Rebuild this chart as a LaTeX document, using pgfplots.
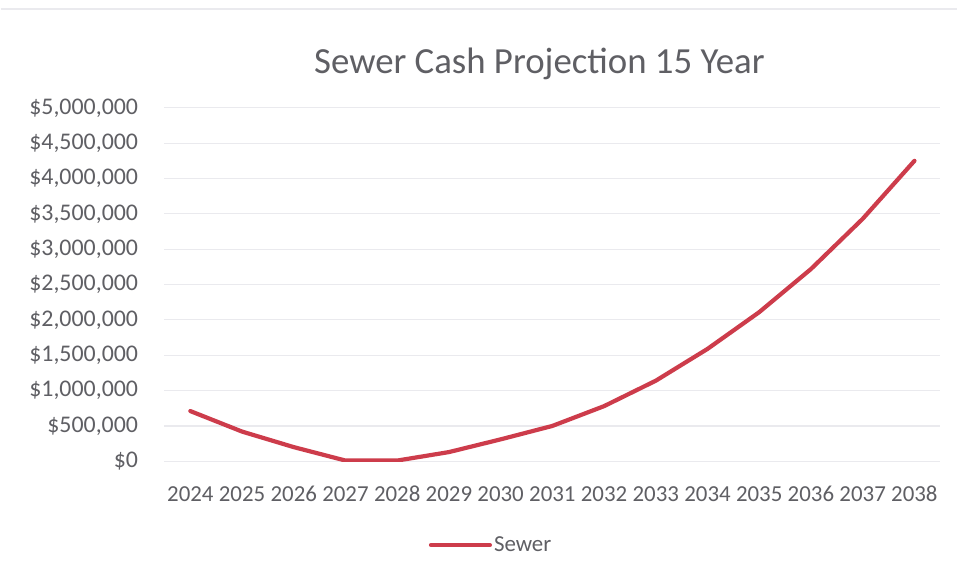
\documentclass[border=0pt]{standalone}
\usepackage{pgfplots}
\pgfplotsset{compat=1.18}
\usepackage{fontspec}
\setmainfont{Carlito}
\definecolor{txt}{RGB}{95,95,100}
\definecolor{sewer}{RGB}{205,60,75}
\definecolor{gridc}{RGB}{234,234,238}
\pgfplotstableread{
year value
2024 710000
2025 420000
2026 200000
2027 10000
2028 10000
2029 130000
2030 310000
2031 500000
2032 780000
2033 1140000
2034 1590000
2035 2110000
2036 2720000
2037 3430000
2038 4250000
}\sewerdata
\begin{document}
\begin{tikzpicture}[x=1bp,y=1bp]
\fill[white] (0,0) rectangle (958,577);
\draw[gridc, line width=1.5bp] (0,568) -- (958,568);
\begin{axis}[
  at={(164bp,115bp)}, anchor=south west,
  scale only axis, width=777bp, height=354bp,
  xmin=2023.5, xmax=2038.5, ymin=0, ymax=5000000,
  scaled y ticks=false,
  axis line style={draw=none},
  major tick length=0pt,
  ymajorgrids, major grid style={gridc, line width=1.2bp},
  xtick={2024,...,2038},
  xticklabels={2024,2025,2026,2027,2028,2029,2030,2031,2032,2033,2034,2035,2036,2037,2038},
  ytick={0,500000,1000000,1500000,2000000,2500000,3000000,3500000,4000000,4500000,5000000},
  yticklabels={{\$0},{\$500,000},{\$1,000,000},{\$1,500,000},{\$2,000,000},{\$2,500,000},{\$3,000,000},{\$3,500,000},{\$4,000,000},{\$4,500,000},{\$5,000,000}},
  ticklabel style={font=\fontsize{23}{27}\selectfont, text=txt},
  yticklabel style={font=\fontsize{24}{28}\selectfont, xshift=-23bp},
  xticklabel style={anchor=base, yshift=-40bp},
  title={Sewer Cash Projection 15 Year},
  title style={font=\fontsize{37}{44}\selectfont, text=txt, at={(0.5,1)}, anchor=base, yshift=28bp, xshift=-13bp},
  legend style={at={(0.421,-0.237)}, anchor=center, draw=none, fill=none,
    font=\fontsize{23}{27}\selectfont, text=txt, inner sep=0pt},
  legend image code/.code={\draw[#1] (0bp,0bp) -- (59bp,0bp);},
  legend cell align=left,
]
\addplot[sewer, line width=4.2bp, line join=round, line cap=round] table[x=year, y=value] {\sewerdata};
\addlegendentry{Sewer}
\end{axis}
\end{tikzpicture}
\end{document}
